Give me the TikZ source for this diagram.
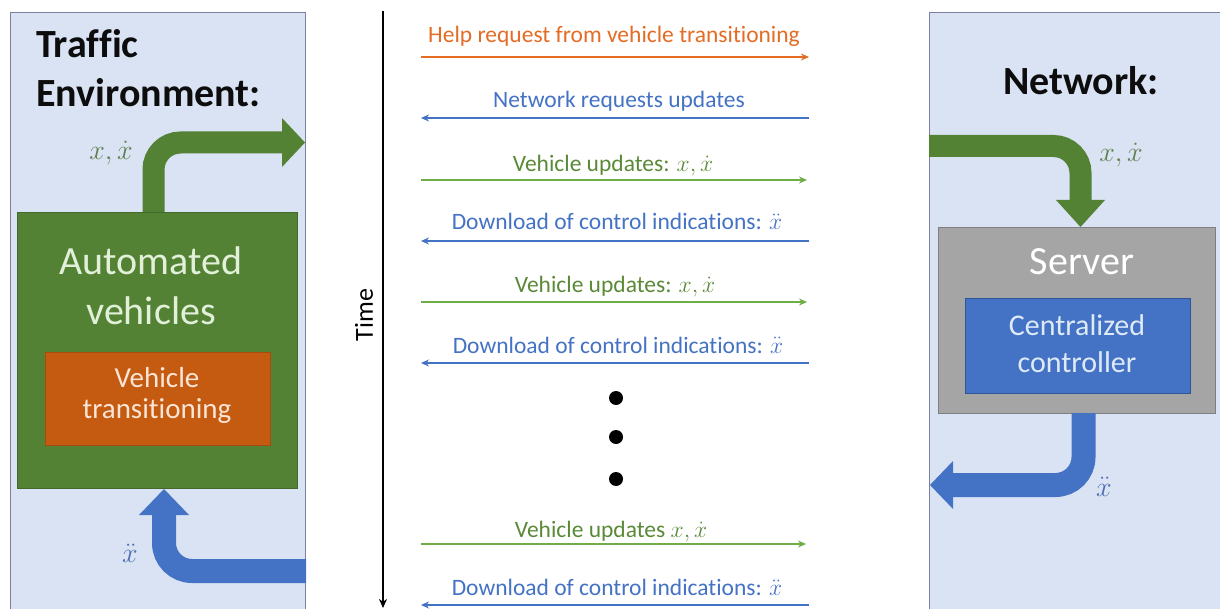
\RequirePackage{fix-cm}
\documentclass[tikz,border=0pt]{standalone}
\usepackage{fontspec}
\setmainfont{Carlito}[Ligatures=NoCommon]
\usetikzlibrary{arrows.meta}
\definecolor{panelfill}{HTML}{DAE3F3}
\definecolor{panelborder}{HTML}{7F7F9F}
\definecolor{avgreen}{HTML}{548235}
\definecolor{avtext}{HTML}{E2F0D9}
\definecolor{vtorange}{HTML}{C55A11}
\definecolor{vttext}{HTML}{FBE5D6}
\definecolor{srvgray}{HTML}{A5A5A5}
\definecolor{srvborder}{HTML}{7F7F7F}
\definecolor{ctrlblue}{HTML}{4472C4}
\definecolor{ctrlborder}{HTML}{2F5597}
\definecolor{ctrltext}{HTML}{DEEBF7}
\definecolor{msgorange}{HTML}{E46C25}
\definecolor{msgblue}{HTML}{4472C4}
\definecolor{msggreen}{HTML}{5A8A38}
\definecolor{msggreenline}{HTML}{70AD47}
\definecolor{lblgreen}{HTML}{5E7F4E}
\definecolor{lblblue}{HTML}{4A6FB5}
\tikzset{
  panel/.style={draw=panelborder, fill=panelfill, line width=1pt, inner sep=0pt, anchor=north west},
  block/.style={inner sep=0pt, anchor=north west, line width=1pt},
  title/.style={font=\fontsize{40}{48}\selectfont\bfseries, text=black!95, anchor=base, inner sep=0pt},
  bigtext/.style={font=\fontsize{40}{48}\selectfont, anchor=base, inner sep=0pt},
  midtext/.style={font=\fontsize{29}{35}\selectfont, anchor=base, inner sep=0pt},
  msgtext/.style={font=\fontsize{23.5}{28}\selectfont, anchor=base, inner sep=0pt},
  lbl/.style={font=\fontsize{28}{34}\selectfont, anchor=base, inner sep=0pt},
  msgline/.style={line width=1.6pt, -{Stealth[length=8pt,width=7pt]}},
  bigarrowg/.style={line width=22pt, avgreen, rounded corners=27pt},
  bigarrowb/.style={line width=24pt, ctrlblue, rounded corners=28pt},
  dotnode/.style={circle, fill=black, minimum size=14pt, inner sep=0pt}
}
\begin{document}
\begin{tikzpicture}[x=1pt,y=-1pt]
\useasboundingbox (0,0) rectangle (1220,609);
\clip (0,0) rectangle (1220,609);
\fill[white] (0,0) rectangle (1220,609);

% ---------- left panel ----------
\node[panel, minimum width=295pt, minimum height=620pt] (trafficpanel) at (10,12) {};
\node[title, anchor=base west] (tt1) at (36,58) {Traffic};
\node[title, anchor=base west] (tt2) at (36,107) {Environment:};

\node[block, fill=avgreen, draw=avgreen!80!black, minimum width=280pt, minimum height=276pt] (av) at (17,212) {};
\node[bigtext, text=avtext] (av1) at (151,275) {Automated};
\node[bigtext, text=avtext] (av2) at (151,325) {vehicles};

\node[block, fill=vtorange, draw=vtorange!85!black, minimum width=225pt, minimum height=93pt] (vt) at (45,352) {};
\node[midtext, text=vttext] (vt1) at (157,387) {Vehicle};
\node[midtext, text=vttext] (vt2) at (157,418) {transitioning};

% green bent arrow (left)
\coordinate (gl0) at (153.5,212);
\coordinate (gl1) at (153.5,142.5);
\coordinate (gl2) at (284,142.5);
\draw[bigarrowg] (gl0) -- (gl1) -- (gl2);
\fill[avgreen] (282,118) -- (305,142.5) -- (282,167) -- cycle;
\node[lbl, text=lblgreen] (lblL) at (111,160) {$x,\dot{x}$};

% blue bent arrow (left)
\coordinate (bl0) at (306,571);
\coordinate (bl1) at (164,571);
\coordinate (bl2) at (164,513);
\draw[bigarrowb] (bl0) -- (bl1) -- (bl2);
\fill[ctrlblue] (139,515) -- (164,489) -- (189,515) -- cycle;
\node[lbl, text=lblblue] (lblLb) at (130,562) {$\ddot{x}$};

% ---------- right panel ----------
\node[panel, minimum width=300pt, minimum height=620pt] (netpanel) at (929,12) {};
\node[title] (nt) at (1081,95) {Network:};

\node[block, fill=srvgray, draw=srvborder, minimum width=277pt, minimum height=186pt] (srv) at (938,227) {};
\node[bigtext, text=white] (srvt) at (1082,275) {Server};

\node[block, fill=ctrlblue, draw=ctrlborder, minimum width=225pt, minimum height=95pt] (ctrl) at (965,298) {};
\node[midtext, font=\fontsize{30}{36}\selectfont, text=ctrltext] (ct1) at (1077,335) {Centralized};
\node[midtext, font=\fontsize{30}{36}\selectfont, text=ctrltext] (ct2) at (1077,372) {controller};

% green bent arrow (right)
\coordinate (gr0) at (929,146);
\coordinate (gr1) at (1080.5,146);
\coordinate (gr2) at (1080.5,202);
\draw[bigarrowg] (gr0) -- (gr1) -- (gr2);
\fill[avgreen] (1056,200) -- (1080.5,227) -- (1105,200) -- cycle;
\node[lbl, text=lblgreen] (lblR) at (1121,162) {$x,\dot{x}$};

% blue bent arrow (right)
\coordinate (br0) at (1083.5,413);
\coordinate (br1) at (1083.5,485);
\coordinate (br2) at (951,485);
\draw[bigarrowb] (br0) -- (br1) -- (br2);
\fill[ctrlblue] (953,461) -- (930,485) -- (953,509) -- cycle;
\node[lbl, text=lblblue] (lblRb) at (1104,496) {$\ddot{x}$};

% ---------- time axis ----------
\coordinate (t0) at (383,11);
\coordinate (t1) at (383,608);
\draw[line width=1.8pt, -{Stealth[length=9pt,width=8pt]}] (t0) -- (t1);
\node[font=\fontsize{26}{30}\selectfont, rotate=90, inner sep=0pt] (timelbl) at (364,315) {Time};

% ---------- messages ----------
\coordinate (l1) at (421,57);  \coordinate (r1) at (809,57);
\coordinate (l2) at (421,118); \coordinate (r2) at (809,118);
\coordinate (l3) at (421,180); \coordinate (r3) at (807,180);
\coordinate (l4) at (421,241); \coordinate (r4) at (809,241);
\coordinate (l5) at (421,302); \coordinate (r5) at (807,302);
\coordinate (l6) at (421,363); \coordinate (r6) at (809,363);
\coordinate (l7) at (421,544); \coordinate (r7) at (806,544);
\coordinate (l8) at (421,605); \coordinate (r8) at (809,605);

\draw[msgline, msgorange] (l1) -- (r1);
\node[msgtext, text=msgorange] (m1) at (614,43) {Help request from vehicle transitioning};
\draw[msgline, msgblue] (r2) -- (l2);
\node[msgtext, text=msgblue] (m2) at (619,108) {Network requests updates};
\draw[msgline, msggreenline] (l3) -- (r3);
\node[msgtext, text=msggreen] (m3) at (613,172) {Vehicle updates: $x,\dot{x}$};
\draw[msgline, msgblue] (r4) -- (l4);
\node[msgtext, text=msgblue] (m4) at (617,230) {Download of control indications: $\ddot{x}$};
\draw[msgline, msggreenline] (l5) -- (r5);
\node[msgtext, text=msggreen] (m5) at (615,293) {Vehicle updates: $x,\dot{x}$};
\draw[msgline, msgblue] (r6) -- (l6);
\node[msgtext, text=msgblue] (m6) at (618,353) {Download of control indications: $\ddot{x}$};

\node[dotnode] (d1) at (616,398) {};
\node[dotnode] (d2) at (616,437) {};
\node[dotnode] (d3) at (616,479) {};

\draw[msgline, msggreenline] (l7) -- (r7);
\node[msgtext, text=msggreen] (m7) at (611,537) {Vehicle updates $x,\dot{x}$};
\draw[msgline, msgblue] (r8) -- (l8);
\node[msgtext, text=msgblue] (m8) at (617,595) {Download of control indications: $\ddot{x}$};
\end{tikzpicture}
\end{document}
